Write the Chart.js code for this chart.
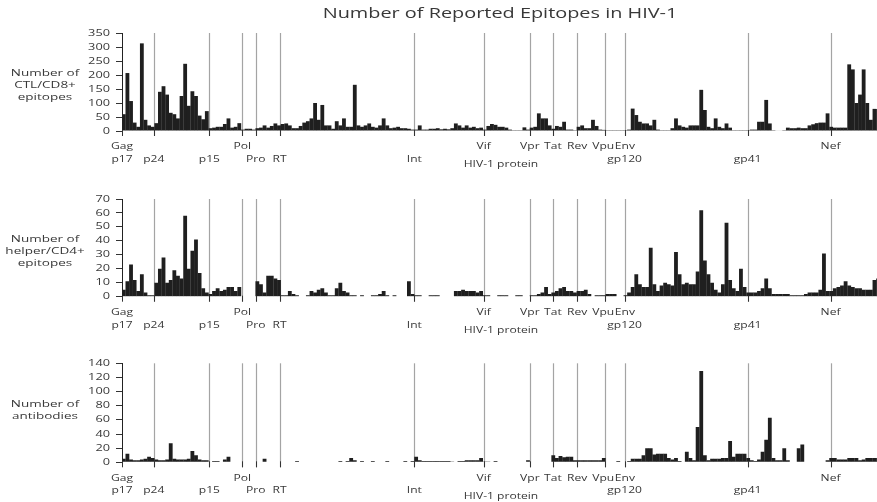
<!DOCTYPE html>
<html>
<head>
<meta charset="utf-8">
<script src="https://cdn.jsdelivr.net/npm/chart.js@4.4.1/dist/chart.umd.min.js"></script>
<style>
  html, body { margin: 0; padding: 0; background: #fff; }
  #wrap { position: relative; width: 877px; height: 502px; overflow: hidden; }
  canvas { position: absolute; left: 0; }
</style>
</head>
<body>
<div id="wrap">
  <canvas id="ctlChart" width="877" height="172" style="top:0"></canvas>
  <canvas id="helperChart" width="877" height="172" style="top:172px"></canvas>
  <canvas id="abChart" width="877" height="158" style="top:344px"></canvas>
</div>
<script>
// residues per bar, HXB2 proteins laid end to end
const BIN_WIDTH = 15;
const AXIS_END = 3138;

const proteinBreaks = [0, 132, 363, 500, 556, 655, 1215, 1503, 1695, 1791, 1892, 2008, 2089, 2600, 2945];
const upperNames = ['Gag', 'Pol', 'Vif', 'Vpr', 'Tat', 'Rev', 'Vpu', 'Env', 'Nef'];
const upperAt = [0, 500, 1503, 1695, 1791, 1892, 2000, 2090, 2945];
const lowerNames = ['p17', 'p24', 'p15', 'Pro', 'RT', 'Int', 'gp120', 'gp41'];
const lowerAt = [0, 132, 363, 556, 655, 1215, 2089, 2600];
const axisTitle = 'HIV-1 protein';
const axisTitleAt = 1575;

const ctlCounts = [
  60, 207, 107, 30, 15, 313, 40, 20, 15, 28,
  140, 160, 130, 65, 60, 45, 125, 240, 90, 142,
  125, 55, 42, 71, 10, 12, 15, 15, 25, 45,
  12, 15, 28, 5, 8, 8, 5, 10, 12, 20,
  12, 18, 27, 20, 25, 27, 20, 10, 10, 18,
  30, 35, 45, 100, 40, 93, 20, 20, 8, 35,
  20, 45, 15, 15, 165, 20, 15, 20, 27, 15,
  12, 20, 45, 20, 10, 12, 15, 10, 10, 8,
  5, 5, 20, 5, 5, 8, 8, 10, 6, 8,
  6, 10, 27, 20, 12, 20, 12, 15, 10, 12,
  5, 18, 25, 22, 15, 15, 12, 5, 3, 3,
  3, 13, 5, 12, 15, 63, 45, 45, 20, 8,
  18, 15, 33, 5, 5, 3, 15, 20, 10, 10,
  40, 18, 5, 4, 3, 3, 3, 3, 3, 3,
  5, 80, 57, 33, 27, 27, 20, 40, 5, 3,
  3, 3, 10, 45, 20, 15, 12, 20, 20, 20,
  147, 75, 15, 10, 45, 15, 10, 27, 12, 3,
  3, 3, 3, 3, 5, 5, 33, 33, 111, 27,
  3, 2, 2, 3, 12, 10, 10, 12, 10, 10,
  20, 24, 28, 30, 30, 63, 15, 12, 12, 12,
  12, 238, 220, 100, 130, 220, 100, 40, 79, 79,
];

const helperCounts = [
  5, 11, 23, 12, 4, 16, 3, 1, 1, 10,
  20, 28, 10, 12, 19, 15, 13, 58, 20, 33,
  41, 17, 6, 3, 2, 4, 6, 4, 5, 7,
  7, 4, 7, 0, 0, 0, 0, 11, 9, 3,
  15, 15, 13, 12, 1, 1, 4, 2, 1, 0,
  0, 1, 4, 3, 5, 6, 3, 1, 1, 6,
  10, 4, 3, 1, 1, 0, 1, 0, 0, 1,
  1, 2, 4, 1, 0, 1, 0, 0, 0, 11,
  2, 1, 1, 0, 0, 1, 1, 1, 0, 0,
  0, 0, 4, 4, 5, 4, 4, 4, 3, 4,
  1, 1, 0, 0, 1, 1, 1, 0, 0, 1,
  1, 0, 0, 1, 1, 2, 3, 7, 2, 3,
  4, 6, 7, 4, 4, 3, 4, 4, 5, 2,
  0, 1, 1, 1, 2, 2, 2, 0, 0, 1,
  3, 7, 16, 9, 7, 7, 35, 9, 4, 8,
  10, 9, 8, 32, 16, 9, 10, 9, 9, 18,
  62, 26, 16, 10, 5, 3, 9, 53, 12, 6,
  4, 20, 7, 3, 3, 3, 4, 6, 13, 6,
  2, 2, 2, 2, 2, 1, 1, 1, 1, 2,
  3, 3, 3, 5, 31, 4, 4, 6, 7, 8,
  11, 8, 7, 6, 6, 5, 5, 5, 12, 13,
];

const antibodyCounts = [
  5, 12, 4, 3, 3, 4, 5, 8, 6, 4,
  3, 3, 4, 27, 5, 4, 4, 4, 5, 16,
  10, 4, 3, 3, 0, 2, 2, 0, 4, 8,
  0, 0, 0, 0, 0, 0, 0, 0, 0, 5,
  0, 0, 0, 0, 0, 0, 0, 0, 2, 0,
  0, 0, 0, 0, 0, 0, 0, 0, 0, 0,
  2, 0, 2, 6, 3, 0, 2, 0, 0, 2,
  0, 0, 0, 2, 0, 0, 0, 0, 2, 0,
  2, 8, 3, 2, 2, 2, 2, 2, 2, 2,
  2, 1, 0, 2, 2, 3, 3, 3, 3, 6,
  1, 1, 0, 2, 0, 0, 0, 0, 0, 0,
  0, 0, 3, 0, 0, 0, 0, 0, 0, 10,
  6, 9, 7, 8, 8, 3, 3, 3, 3, 3,
  3, 3, 3, 6, 0, 0, 0, 2, 0, 0,
  2, 5, 5, 5, 10, 20, 20, 11, 12, 12,
  12, 6, 4, 6, 2, 0, 15, 6, 3, 50,
  129, 10, 3, 5, 5, 5, 6, 6, 30, 8,
  12, 12, 12, 6, 3, 2, 4, 15, 32, 63,
  6, 3, 3, 20, 3, 0, 0, 20, 25, 0,
  0, 0, 0, 0, 0, 3, 6, 6, 4, 4,
  4, 6, 6, 6, 3, 4, 6, 6, 6, 6,
];

const FONT = '"Open Sans", "DejaVu Sans", sans-serif';
const TEXT_COLOR = '#383838';
const STRETCH = 1.42; // the lettering is drawn wide

function wideText(ctx, text, x, y, size, align) {
  ctx.save();
  ctx.font = `${size}px ${FONT}`;
  ctx.fillStyle = TEXT_COLOR;
  ctx.textAlign = align;
  ctx.textBaseline = 'middle';
  ctx.translate(x, y);
  ctx.scale(STRETCH, 1);
  ctx.fillText(text, 0, 0);
  ctx.restore();
}

const panelDecor = {
  id: 'panelDecor',
  beforeDatasetsDraw(chart) {
    const { ctx, chartArea, scales: { x, y } } = chart;
    const zero = y.getPixelForValue(0);
    ctx.save();
    ctx.strokeStyle = '#a4a4a4';
    ctx.lineWidth = 1.2;
    proteinBreaks.slice(1).forEach((pos) => {
      const px = Math.round(x.getPixelForValue(pos)) + 0.5;
      ctx.beginPath();
      ctx.moveTo(px, chartArea.top);
      ctx.lineTo(px, zero + 5);
      ctx.stroke();
    });
    ctx.restore();
  },
  afterDraw(chart, args, opts) {
    const { ctx, chartArea, scales: { x, y } } = chart;
    const zero = y.getPixelForValue(0);

    // short dark marks where each protein starts
    ctx.save();
    ctx.strokeStyle = '#333';
    ctx.lineWidth = 1;
    proteinBreaks.forEach((pos) => {
      const px = Math.round(x.getPixelForValue(pos)) + 0.5;
      ctx.beginPath();
      ctx.moveTo(px, zero - 1);
      ctx.lineTo(px, zero + 5);
      ctx.stroke();
    });
    ctx.restore();

    y.ticks.forEach((t) => {
      wideText(ctx, String(t.value), chartArea.left - 12, y.getPixelForValue(t.value), 9, 'right');
    });

    const mid = (chartArea.top + chartArea.bottom) / 2;
    opts.side.forEach((line, i) => {
      wideText(ctx, line, 45, mid - 9 + i * 12.3, 9.5, 'center');
    });

    upperNames.forEach((name, i) => {
      wideText(ctx, name, x.getPixelForValue(upperAt[i]), zero + 16, 8.5, 'center');
    });
    lowerNames.forEach((name, i) => {
      wideText(ctx, name, x.getPixelForValue(lowerAt[i]), zero + 28.5, 8.5, 'center');
    });
    wideText(ctx, axisTitle, x.getPixelForValue(axisTitleAt), zero + 34, 8.5, 'center');

    if (opts.title) {
      wideText(ctx, opts.title, 500, 14, 14, 'center');
    }
  },
};

function makePanel(canvasId, counts, yMax, yStep, side, padTop, padBottom, title) {
  return new Chart(document.getElementById(canvasId), {
    type: 'bar',
    data: {
      datasets: [{
        data: counts.map((v, i) => ({ x: i * BIN_WIDTH + BIN_WIDTH / 2, y: v })),
        backgroundColor: '#1f1f1f',
        borderWidth: 0,
        categoryPercentage: 1,
        barPercentage: 1.06,
      }],
    },
    options: {
      responsive: false,
      animation: false,
      events: [],
      layout: { padding: { top: padTop, bottom: padBottom, left: 0, right: 0 } },
      plugins: {
        legend: { display: false },
        tooltip: { enabled: false },
        panelDecor: { side, title },
      },
      scales: {
        x: {
          type: 'linear',
          min: 0,
          max: AXIS_END,
          offset: false,
          display: false,
        },
        y: {
          min: 0,
          max: yMax,
          ticks: { stepSize: yStep, display: false },
          grid: { drawOnChartArea: false, drawTicks: true, tickLength: 6, color: '#333' },
          border: { display: true, color: '#222', width: 1 },
          afterFit(scale) { scale.width = 122; },
        },
      },
    },
    plugins: [panelDecor],
  });
}

makePanel('ctlChart', ctlCounts, 350, 50, ['Number of', 'CTL/CD8+', 'epitopes'], 33, 41,
  'Number of Reported Epitopes in HIV-1');
makePanel('helperChart', helperCounts, 70, 10, ['Number of', 'helper/CD4+', 'epitopes'], 27, 47.3);
makePanel('abChart', antibodyCounts, 140, 20, ['Number of', 'antibodies'], 19.3, 39.7);
</script>
</body>
</html>
